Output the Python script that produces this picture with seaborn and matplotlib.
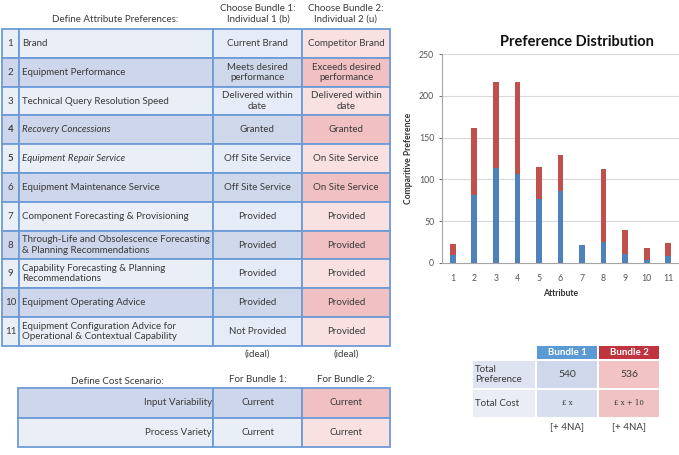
import matplotlib
matplotlib.use("Agg")
import matplotlib.pyplot as plt
from matplotlib.patches import Rectangle
import pandas as pd
import seaborn as sns

# values
attributes = ["1", "2", "3", "4", "5", "6", "7", "8", "9", "10", "11"]
bundle1_pref = [9, 81, 114, 106, 76, 86, 21, 25, 11, 3, 8]
bundle2_pref = [14, 80, 102, 111, 39, 43, 1, 87, 28, 15, 16]

attr_names = ["Brand", "Equipment Performance", "Technical Query Resolution Speed",
              "Recovery Concessions", "Equipment Repair Service",
              "Equipment Maintenance Service", "Component Forecasting & Provisioning",
              "Through-Life and Obsolescence Forecasting\n& Planning Recommendations",
              "Capability Forecasting & Planning\nRecommendations",
              "Equipment Operating Advice",
              "Equipment Configuration Advice for\nOperational & Contextual Capability"]
bundle1_levels = ["Current Brand", "Meets desired\nperformance", "Delivered within\ndate",
                  "Granted", "Off Site Service", "Off Site Service", "Provided",
                  "Provided", "Provided", "Provided", "Not Provided"]
bundle2_levels = ["Competitor Brand", "Exceeds desired\nperformance", "Delivered within\ndate",
                  "Granted", "On Site Service", "On Site Service", "Provided",
                  "Provided", "Provided", "Provided", "Provided"]
italic_rows = [4, 5]

cost_factors = ["Input Variability", "Process Variety"]
cost_b1 = ["Current", "Current"]
cost_b2 = ["Current", "Current"]
total_cost = ["£ x", "£ x + 10"]

BLUE = "#4f81bd"
RED = "#c0504d"
BORDER = "#6d9bd6"

plt.rcParams['font.family'] = ['Lato', 'DejaVu Sans']
fig = plt.figure(figsize=(6.79, 4.55), dpi=100)

# background axes in pixel coordinates for the tables
bg = fig.add_axes([0, 0, 1, 1])
bg.set_xlim(0, 679)
bg.set_ylim(455, 0)
bg.axis("off")

fs = 7
tc = "#3a3a3a"

bg.text(115, 20, "Define Attribute Preferences:", ha="center", va="center", fontsize=fs, color=tc)
bg.text(258, 14, "Choose Bundle 1:\nIndividual 1 (b)", ha="center", va="center", fontsize=fs, color=tc, linespacing=1.3)
bg.text(346, 14, "Choose Bundle 2:\nIndividual 2 (u)", ha="center", va="center", fontsize=fs, color=tc, linespacing=1.3)

top, rh = 29, 28.8
x0, x1, x2, x3, x4 = 2, 19, 213, 302, 390
for i in range(len(attr_names)):
    y = top + i * rh
    even = (i % 2 == 1)
    lab_c = "#cdd6ea" if even else "#e9eef7"
    b1_c = "#cfd8eb" if even else "#e6ecf7"
    b2_c = "#f1c0c3" if even else "#f9e1e2"
    for (a, b, c) in [(x0, x1, lab_c), (x1, x2, lab_c), (x2, x3, b1_c), (x3, x4, b2_c)]:
        bg.add_patch(Rectangle((a, y), b - a, rh, facecolor=c, edgecolor=BORDER, lw=1.3))
    num = i + 1
    bg.text((x0 + x1) / 2, y + rh / 2, str(num), ha="center", va="center", fontsize=fs,
            color=tc, fontweight="bold" if num in italic_rows else "normal")
    bg.text(x1 + 3, y + rh / 2, attr_names[i], ha="left", va="center", fontsize=fs, color=tc,
            style="italic" if num in italic_rows else "normal", linespacing=1.15)
    bg.text((x2 + x3) / 2, y + rh / 2, bundle1_levels[i], ha="center", va="center",
            fontsize=fs, color=tc, linespacing=1.15)
    bg.text((x3 + x4) / 2, y + rh / 2, bundle2_levels[i], ha="center", va="center",
            fontsize=fs, color=tc, linespacing=1.15)

bg.text((x2 + x3) / 2, 354, "(ideal)", ha="center", va="center", fontsize=fs, color=tc)
bg.text((x3 + x4) / 2, 354, "(ideal)", ha="center", va="center", fontsize=fs, color=tc)

# cost scenario table
bg.text(117, 381, "Define Cost Scenario:", ha="center", va="center", fontsize=fs, color=tc)
bg.text(258, 380, "For Bundle 1:", ha="center", va="center", fontsize=fs, color=tc)
bg.text(346, 380, "For Bundle 2:", ha="center", va="center", fontsize=fs, color=tc)
ctop, crh = 388, 29.5
for i in range(len(cost_factors)):
    y = ctop + i * crh
    lab_c = "#cdd6ea" if i == 0 else "#e9eef7"
    b2_c = "#f1c0c3" if i == 0 else "#f9e1e2"
    for (a, b, c) in [(18, x2, lab_c), (x2, x3, lab_c), (x3, x4, b2_c)]:
        bg.add_patch(Rectangle((a, y), b - a, crh, facecolor=c, edgecolor=BORDER, lw=1.3))
    bg.text(x2 - 1, y + crh / 2, cost_factors[i], ha="right", va="center", fontsize=fs, color=tc)
    bg.text((x2 + x3) / 2, y + crh / 2, cost_b1[i], ha="center", va="center", fontsize=fs, color=tc)
    bg.text((x3 + x4) / 2, y + crh / 2, cost_b2[i], ha="center", va="center", fontsize=fs, color=tc)

# summary table bottom right
totals = [sum(bundle1_pref), sum(bundle2_pref)]
bg.add_patch(Rectangle((537, 346), 60, 13, facecolor="#5b9bd5", edgecolor="none"))
bg.add_patch(Rectangle((599, 346), 60, 13, facecolor="#c0333f", edgecolor="none"))
bg.text(567, 352.5, "Bundle 1", ha="center", va="center", fontsize=fs, color="white", fontweight="bold")
bg.text(629, 352.5, "Bundle 2", ha="center", va="center", fontsize=fs, color="white", fontweight="bold")
bg.add_patch(Rectangle((473, 361), 62, 27, facecolor="#dde3f0", edgecolor="none"))
bg.add_patch(Rectangle((473, 390), 62, 27, facecolor="#eaedf5", edgecolor="none"))
bg.add_patch(Rectangle((537, 361), 60, 27, facecolor="#cfd8ea", edgecolor="none"))
bg.add_patch(Rectangle((599, 361), 60, 27, facecolor="#f1c3c5", edgecolor="none"))
bg.add_patch(Rectangle((537, 390), 60, 27, facecolor="#d8e0ef", edgecolor="none"))
bg.add_patch(Rectangle((599, 390), 60, 27, facecolor="#efc2c4", edgecolor="none"))
bg.text(475, 374.5, "Total\nPreference", ha="left", va="center", fontsize=fs, color=tc, linespacing=1.2)
bg.text(475, 403.5, "Total Cost", ha="left", va="center", fontsize=fs, color=tc)
bg.text(567, 374.5, str(totals[0]), ha="center", va="center", fontsize=7.5, color=tc)
bg.text(629, 374.5, str(totals[1]), ha="center", va="center", fontsize=7.5, color=tc)
bg.text(567, 403, total_cost[0], ha="center", va="center", fontsize=5, color=tc, family="DejaVu Serif")
bg.text(629, 403, total_cost[1], ha="center", va="center", fontsize=5, color=tc, family="DejaVu Serif")
bg.text(567, 427, "[+ 4NA]", ha="center", va="center", fontsize=fs, color=tc)
bg.text(629, 427, "[+ 4NA]", ha="center", va="center", fontsize=fs, color=tc)

# stacked bar chart
df = pd.DataFrame({"Attribute": attributes, "Bundle 1": bundle1_pref, "Bundle 2": bundle2_pref})
df["Total"] = df["Bundle 1"] + df["Bundle 2"]

ax = fig.add_axes([442 / 679, 1 - 263 / 455, (679 - 442) / 679, (263 - 54) / 455])
sns.barplot(data=df, x="Attribute", y="Total", color=RED, saturation=1, width=0.27, ax=ax)
sns.barplot(data=df, x="Attribute", y="Bundle 1", color=BLUE, saturation=1, width=0.27, ax=ax)
ax.set_ylim(0, 250)
ax.set_xlim(-0.5, 10.5)
ax.set_yticks(range(0, 251, 50))
ax.yaxis.grid(True, color="#d9d9d9", lw=0.8)
ax.set_axisbelow(True)
for s in ["top", "right"]:
    ax.spines[s].set_visible(False)
ax.spines["left"].set_color("#a6a6a6")
ax.spines["bottom"].set_color("#a6a6a6")
ax.tick_params(axis="both", labelsize=6.3, colors="#555555", length=2, width=0.6)
ax.tick_params(axis="x", length=0, pad=8)
ax.set_xlabel("Attribute", fontsize=6.2, fontweight="bold", color="#333333", labelpad=4)
ax.set_ylabel("Comparitive Preference", fontsize=6.2, fontweight="bold", color="#333333", labelpad=4)
fig.text(577 / 679, 1 - 42 / 455, "Preference Distribution", ha="center", va="center",
         fontsize=10.5, fontweight="bold", color="#111111")

fig.savefig("out.png", dpi=100)
